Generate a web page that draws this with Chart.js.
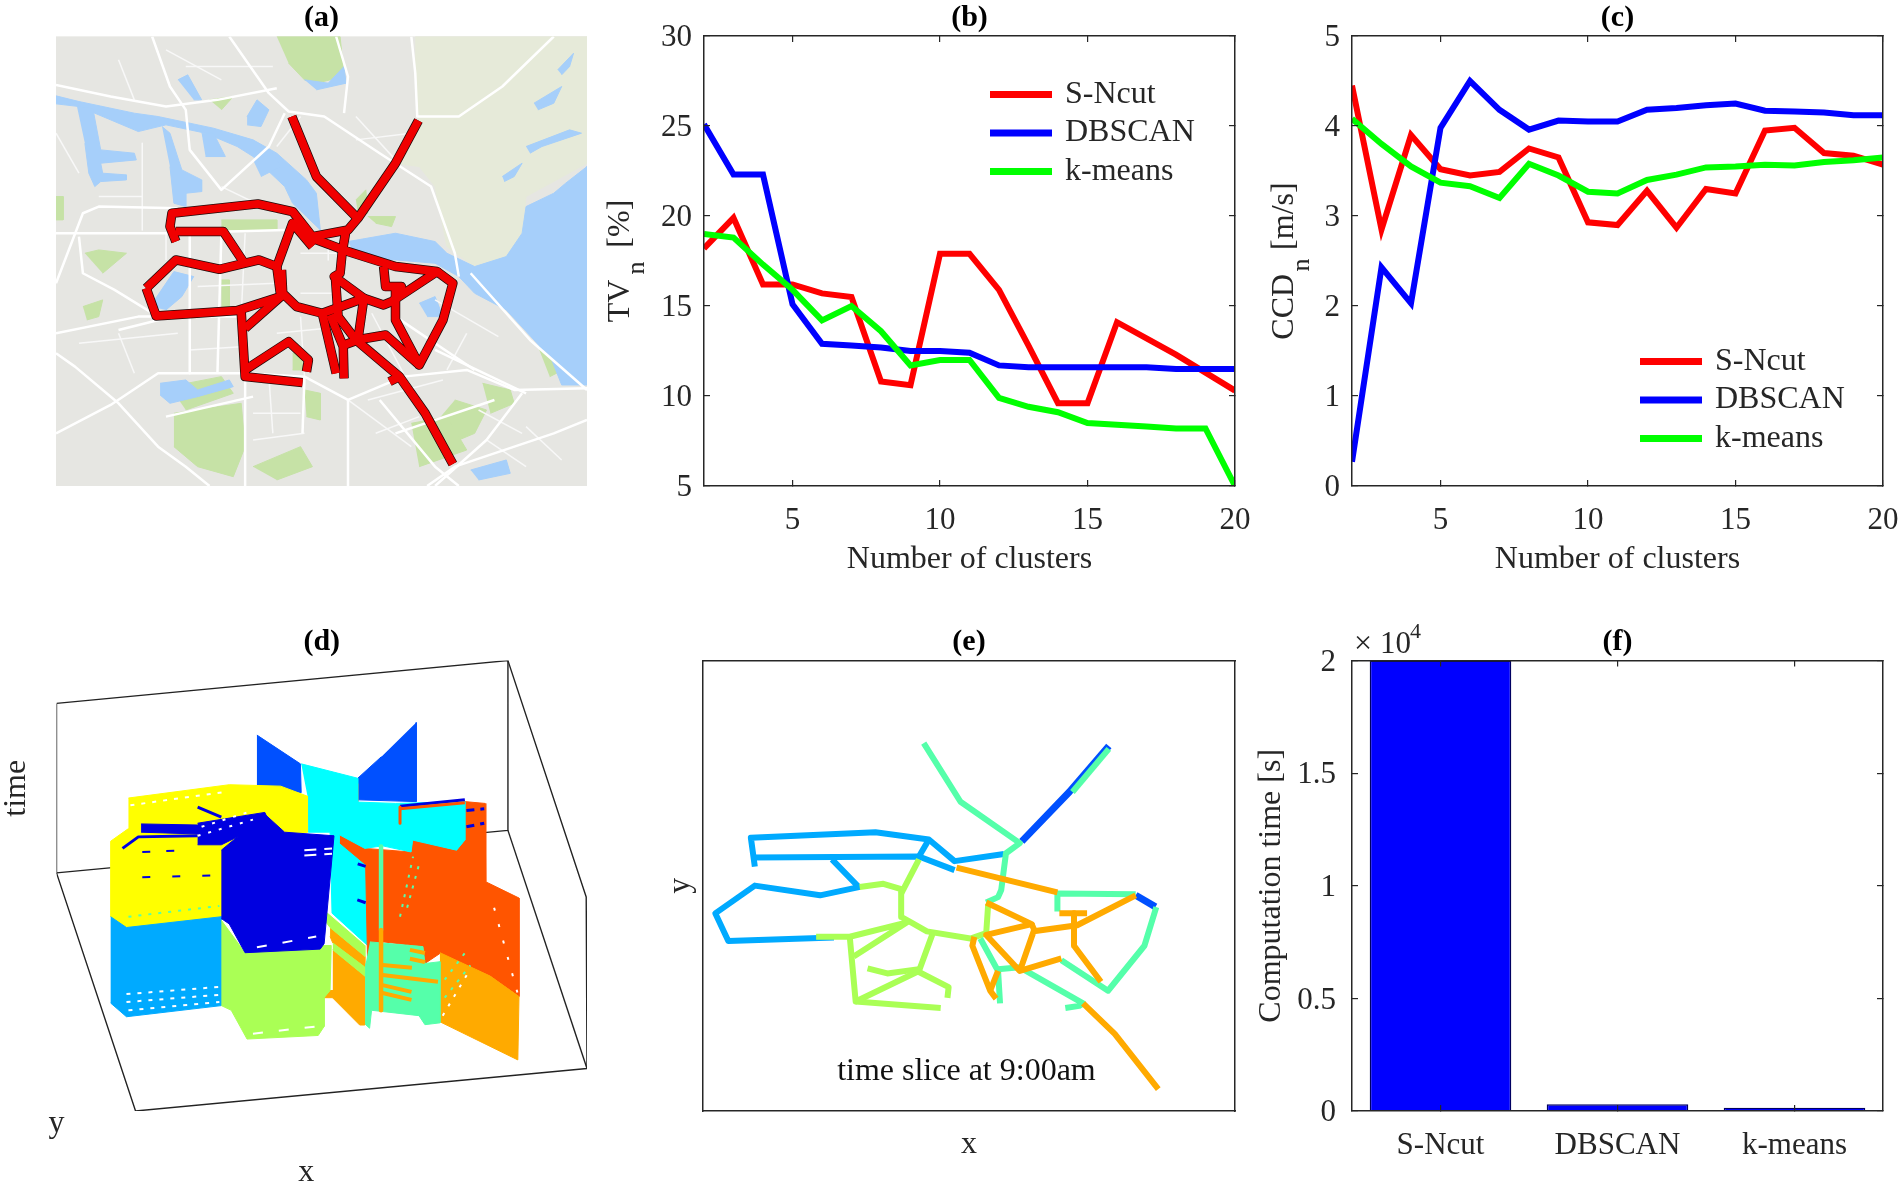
<!DOCTYPE html>
<html><head><meta charset="utf-8"><title>Clustering comparison</title>
<script src="https://cdn.jsdelivr.net/npm/chart.js@4/dist/chart.umd.min.js"></script>
<style>html,body{margin:0;padding:0;background:#fff;width:1900px;height:1184px;overflow:hidden}canvas{position:absolute;display:block}</style>
</head><body>
<canvas id="a" style="left:0;top:0" width="620" height="520"></canvas>
<canvas id="b" style="left:600px;top:0" width="650" height="590"></canvas>
<canvas id="c" style="left:1250px;top:0" width="650" height="590"></canvas>
<canvas id="d" style="left:0;top:620px" width="620" height="564"></canvas>
<canvas id="e" style="left:650px;top:620px" width="620" height="564"></canvas>
<canvas id="f" style="left:1250px;top:620px" width="650" height="564"></canvas>
<script>
// ---------- data: line charts ----------
const clusters=[2,3,4,5,6,7,8,9,10,11,12,13,14,15,16,17,18,19,20];
const seriesNames=['S-Ncut','DBSCAN','k-means'];
const tvSNcut=[18.2,19.9,16.2,16.2,15.7,15.5,10.8,10.6,17.9,17.9,15.9,12.8,9.6,9.6,14.1,13.2,12.3,11.3,10.3];
const tvDbscan=[25.1,22.3,22.3,15.1,12.9,12.8,12.7,12.5,12.5,12.4,11.7,11.6,11.6,11.6,11.6,11.6,11.5,11.5,11.5];
const tvKmeans=[19.0,18.8,17.3,15.9,14.2,15.0,13.6,11.7,12.0,12.0,9.9,9.4,9.1,8.5,8.4,8.3,8.2,8.2,5.0];
const ccdSNcut=[4.45,2.85,3.9,3.52,3.45,3.49,3.75,3.65,2.93,2.9,3.28,2.87,3.3,3.25,3.95,3.98,3.7,3.67,3.57];
const ccdDbscan=[0.27,2.43,2.03,3.98,4.5,4.18,3.96,4.06,4.05,4.05,4.18,4.2,4.23,4.25,4.17,4.16,4.15,4.12,4.12];
const ccdKmeans=[4.08,3.8,3.55,3.37,3.33,3.2,3.58,3.45,3.27,3.25,3.4,3.46,3.54,3.55,3.57,3.56,3.6,3.62,3.65];
const clusterTicks=[5,10,15,20];
const tvTicks=[5,10,15,20,25,30];
const ccdTicks=[0,1,2,3,4,5];
// ---------- data: bars ----------
const barLabels=['S-Ncut','DBSCAN','k-means'];
const computeSeconds=[20000,300,140];
const timeTicks=[0,5000,10000,15000,20000];
// ---------- data: (a) map, read in picture units ----------
const mapPaleLand=[[1050,110],[1484,110],[1484,490],[1330,590],[1320,700],[1290,780],[1200,800],[1130,740],[1100,560],[1060,500],[1000,490],[1058,360],[1050,200]];
const mapGreens=[
 [[700,110],[860,110],[870,230],[800,250],[770,240],[730,190]],
 [[440,1240],[610,1210],[620,1340],[590,1430],[500,1400],[440,1340]],
 [[1150,1200],[1230,1230],[1200,1300],[1120,1340],[1100,1270]],
 [[1360,1040],[1430,1040],[1440,1100],[1390,1130]],
 [[560,660],[700,660],[700,690],[560,690]],
 [[210,920],[260,900],[250,950],[220,960]],
 [[215,760],[250,750],[320,760],[260,820]],
 [[1220,1150],[1290,1170],[1300,1210],[1240,1240]],
 [[560,840],[580,840],[580,920],[560,920]],
 [[740,1060],[770,1060],[770,1110],[740,1110]],
 [[770,1170],[810,1180],[810,1260],[775,1250]],
 [[900,600],[925,570],[930,640],[905,640]],
 [[930,650],[1000,650],[990,680],[950,670]],
 [[430,1160],[560,1130],[590,1180],[470,1230]],
 [[142,590],[160,590],[160,660],[142,660]],
 [[530,300],[590,290],[560,330]],
 [[640,1400],[760,1340],[790,1400],[700,1440]],
 [[1040,1270],[1130,1250],[1180,1350],[1060,1400]]
];
const mapWaters=[
 [[142,288],[200,305],[340,340],[400,350],[540,385],[640,420],[700,460],[775,540],[800,580],[810,690],[775,650],[740,610],[720,560],[640,470],[600,440],[520,400],[420,375],[350,395],[200,320],[142,312]],
 [[195,320],[235,325],[255,450],[340,460],[345,480],[255,490],[260,520],[320,525],[320,540],[255,545],[240,560],[225,520],[215,430]],
 [[410,380],[430,400],[460,510],[510,540],[510,575],[470,580],[470,620],[440,610],[430,500]],
 [[450,240],[475,225],[510,300],[490,300]],
 [[625,350],[650,300],[680,330],[660,380],[625,375]],
 [[510,400],[540,400],[570,470],[520,470]],
 [[880,725],[1000,700],[1100,725],[1130,760],[1200,800],[1280,770],[1320,700],[1330,620],[1400,580],[1430,550],[1484,500],[1484,1155],[1420,1155],[1395,1080],[1350,1020],[1280,930],[1200,880],[1160,830],[1100,790],[1000,780],[900,770]],
 [[380,920],[440,815],[490,830],[460,890],[420,930]],
 [[405,1150],[470,1140],[500,1170],[580,1140],[590,1160],[500,1190],[430,1210],[405,1185]],
 [[1190,1410],[1280,1380],[1290,1420],[1210,1440]],
 [[1060,910],[1100,890],[1120,950],[1080,950]],
 [[1270,530],[1320,490],[1300,530],[1275,545]],
 [[1330,440],[1440,390],[1470,400],[1370,440],[1340,460]],
 [[1350,310],[1420,260],[1400,310],[1360,330]],
 [[1410,210],[1450,160],[1440,200],[1420,225]],
 [[770,240],[830,250],[870,200],[875,250],[800,270]],
 [[640,480],[690,460],[710,500],[660,530]]
];
const mapRoads=[
 [[142,255],[280,290],[420,320],[550,300],[700,265]],
 [[580,110],[680,280],[730,335],[820,350],[960,460],[1090,560],[1150,760],[1160,830]],
 [[850,110],[880,230],[870,340]],
 [[1040,110],[1050,220],[1055,350],[1160,350],[1270,260],[1400,110]],
 [[385,110],[430,260],[470,330],[480,450],[560,570],[680,440],[720,340]],
 [[142,700],[420,700],[720,690]],
 [[142,850],[210,640],[250,620],[450,625]],
 [[200,710],[210,820],[290,870],[400,950]],
 [[142,1060],[190,1100],[300,1210],[400,1340],[470,1400],[530,1458]],
 [[142,1300],[280,1215],[400,1120],[620,1120],[770,1130],[880,1200],[1020,1130],[1180,1110],[1300,1170],[1484,1165]],
 [[880,1200],[880,1458]],
 [[620,1130],[620,1458]],
 [[770,1130],[765,1300]],
 [[1320,1180],[1230,1320],[1100,1458]],
 [[960,1200],[1100,1400],[1160,1458]],
 [[1484,1260],[1400,1300],[1150,1400],[1080,1458]],
 [[480,700],[480,1120]],
 [[142,1000],[350,950],[600,950]],
 [[1190,820],[1340,1020],[1484,1170]],
 [[1000,950],[1200,1110]],
 [[560,700],[550,1120]],
 [[300,990],[470,940]],
 [[1100,1050],[1330,1180]],
 [[420,1250],[640,1190]],
 [[1000,1300],[1250,1200]]
];
const mapStreets=[
 [[250,590],[360,590],[360,690]],[[620,700],[610,950]],[[500,860],[700,850]],[[420,780],[420,700]],
 [[200,1030],[450,1000]],[[300,1000],[340,1120]],[[480,1050],[620,1040]],[[700,1000],[870,980]],
 [[760,950],[770,1130]],[[940,940],[1020,1120]],[[1100,900],[1260,1010]],[[1180,1000],[1130,1110]],
 [[930,1200],[1120,1140]],[[950,1300],[1060,1250]],[[1210,1230],[1320,1300]],[[640,1240],[760,1240]],
 [[640,1320],[770,1300]],[[680,1130],[690,1300]],[[560,560],[700,640]],[[760,350],[700,440]],
 [[900,350],[1000,480]],[[900,420],[1040,400]],[[470,200],[690,200]],[[420,150],[560,240]],
 [[300,180],[340,300]],[[142,400],[200,520]],[[360,430],[360,590]],[[880,1200],[1040,1340]],
 [[1230,1320],[1330,1400]],[[1330,1280],[1420,1380]],[[830,700],[830,780]],[[760,760],[850,760]],
 [[760,880],[860,880]]
];
const mapNetwork=[
 [[738,350],[800,530],[900,650]],
 [[1058,362],[1000,490],[905,655],[880,690],[790,710],[740,635],[652,612],[435,640],[430,680],[445,725]],
 [[445,695],[565,695],[618,790]],
 [[370,865],[445,780],[555,808],[655,780],[700,800],[740,670],[790,740]],
 [[370,865],[395,948],[600,932],[710,890],[700,800]],
 [[712,810],[715,880],[750,920],[815,940],[920,895],[970,915],[990,905],[1105,815],[1000,800],[880,755],[790,715]],
 [[1105,815],[1145,850],[1120,960],[1060,1095],[1000,960],[1000,870],[1015,860],[975,860],[970,800]],
 [[875,690],[865,760],[860,820],[845,830],[920,895],[905,1020],[870,1035]],
 [[848,830],[855,950],[900,1020],[1010,1130],[1075,1240],[1145,1392]],
 [[815,940],[850,1120]],
 [[835,945],[868,1040],[870,1135]],
 [[900,1020],[975,1005],[1060,1095]],
 [[1010,1130],[985,1145]],
 [[610,935],[620,1130],[765,1148]],
 [[620,1110],[730,1025],[780,1080],[775,1115]],
 [[710,890],[620,985]]
];
// ---------- data: (d) space-time partitions, read in picture units ----------
const boxEdges=[
 [[143,232],[1285,113],[1285,585],[143,703],[143,232]],
 [[1285,113],[1483,770],[1485,1247],[343,1365],[143,703]],
 [[1285,585],[1485,1247]]
];
const dBlueA=[[650,320],[760,400],[762,480],[650,460]];
const dBlueB=[[1053,285],[1053,505],[905,500],[905,440],[965,380]];
const dCyanCol=[[762,400],[905,440],[905,520],[925,640],[930,905],[840,815],[835,590],[780,590],[778,490]];
const dRed=[[860,598],[923,635],[1040,645],[1044,612],[1155,640],[1176,612],[1176,505],[1227,510],[1229,728],[1313,773],[1313,1047],[1240,990],[1113,927],[1075,955],[1070,908],[970,895],[930,954],[925,680],[860,620]];
const dRedTop=[[872,470],[905,455],[905,505],[880,545],[870,540]];
const dCyanTop=[[871,505],[1000,510],[1176,505],[1176,612],[1155,640],[1044,612],[1040,645],[968,628],[923,635],[860,598],[868,580]];
const dYellow=[[325,495],[580,458],[710,462],[778,490],[778,590],[560,640],[560,825],[320,855],[280,825],[280,615],[325,580]];
const dSky=[[280,825],[320,855],[560,825],[560,1072],[320,1103],[280,1065]];
const dNavyBody=[[560,640],[670,540],[720,590],[845,600],[820,900],[810,915],[620,925],[580,845],[560,830]];
const dNavyBar=[[357,567],[500,570],[500,595],[357,590]];
const dNavyLink=[[500,565],[670,535],[680,560],[560,625],[500,625]];
const dLime=[[560,835],[620,925],[820,905],[838,905],[835,1030],[820,1050],[820,1130],[805,1155],[625,1165],[585,1085],[560,1072]];
const dOrangeA=[[842,917],[923,990],[923,1126],[910,1126],[842,1051]];
const dOrangeStripe=[[835,855],[923,935],[923,965],[842,898],[835,880]];
const dOrangeEdge=[[820,1030],[845,1030],[845,1050],[820,1050]];
const dOrangeB=[[1113,925],[1240,990],[1313,1047],[1310,1223],[1113,1117]];
const dSpring=[[936,895],[1070,908],[1075,955],[1113,950],[1113,1120],[1075,1125],[1060,1100],[940,1085],[935,1135],[925,1125],[925,955]];
const dLimeBandA=[[825,812],[923,905],[923,935],[835,855],[825,840]];
const dLimeBandB=[[842,898],[923,965],[923,990],[842,917]];
const dStreaks=[
 {c:'#0000e0',w:3,p:[[310,635],[350,603],[500,600]]},
 {c:'#0000e0',w:3,p:[[500,520],[560,548]]},
 {c:'#0000e0',w:3,p:[[1012,518],[1176,500]]},
 {c:'#ff5500',w:3,p:[[1012,525],[1176,508]]},
 {c:'#ff5500',w:3,p:[[1012,520],[1012,565]]},
 {c:'#0000e0',w:3,p:[[905,678],[925,685]]},
 {c:'#0000e0',w:3,p:[[904,778],[925,786]]},
 {c:'#0000e0',w:3,d:[8,6],p:[[1180,530],[1225,525]]},
 {c:'#0000e0',w:3,d:[8,6],p:[[1180,575],[1225,565]]},
 {c:'#55ffaa',w:4.5,p:[[964,630],[964,862]]},
 {c:'#ffaa00',w:4.5,p:[[964,862],[964,1085]]},
 {c:'#ffaa00',w:4,p:[[968,959],[1042,967]]},
 {c:'#ffaa00',w:4,p:[[968,987],[1108,1006]]},
 {c:'#ffaa00',w:4,p:[[968,1015],[1041,1034]]},
 {c:'#ffaa00',w:4,p:[[968,1037],[1041,1056]]},
 {c:'#ffaa00',w:4,p:[[1037,917],[1075,926]]},
 {c:'#ffaa00',w:4,p:[[1037,942],[1075,951]]},
 {c:'#ffffff',w:2,d:[4,7],p:[[320,1040],[555,1020]]},
 {c:'#ffffff',w:2,d:[4,7],p:[[320,1062],[555,1042]]},
 {c:'#ffffff',w:2,d:[4,7],p:[[325,1085],[555,1062]]},
 {c:'#ffffff',w:2,d:[4,7],p:[[330,515],[570,478]]},
 {c:'#55ffaa',w:2,d:[3,7],p:[[325,825],[555,795]]},
 {c:'#ffffff',w:2,d:[10,16],p:[[640,1150],[800,1130]]},
 {c:'#ffffff',w:2,d:[10,16],p:[[650,910],[800,880]]},
 {c:'#55ffaa',w:2,d:[3,7],p:[[1012,825],[1045,658]]},
 {c:'#55ffaa',w:2,d:[3,7],p:[[1030,800],[1060,680]]},
 {c:'#55ffaa',w:2,d:[3,7],p:[[1125,1000],[1180,920]]},
 {c:'#55ffaa',w:2,d:[3,7],p:[[1125,1050],[1190,960]]},
 {c:'#ffffff',w:2,d:[3,8],p:[[1120,1100],[1190,970]]},
 {c:'#0000e0',w:2,d:[8,16],p:[[360,645],[480,640]]},
 {c:'#0000e0',w:2,d:[8,22],p:[[360,715],[540,710]]},
 {c:'#ffffff',w:2,d:[3,8],p:[[500,600],[640,555]]},
 {c:'#ffffff',w:2,d:[3,8],p:[[510,575],[640,530]]},
 {c:'#ffffff',w:2,d:[3,14],p:[[1250,800],[1310,1040]]},
 {c:'#ffffff',w:2,d:[12,8],p:[[770,640],[840,635]]},
 {c:'#ffffff',w:2,d:[12,8],p:[[770,655],[840,650]]}
];
// ---------- data: (e) time slice, read in picture units ----------
const sliceBlue=[
 [[1160,350],[1060,478],[940,615]],
 [[1228,765],[1278,797]]
];
const sliceSpring=[
 [[692,342],[785,505],[935,620],[900,648],[888,750],[880,770],[850,785]],
 [[1160,358],[1068,478]],
 [[1030,810],[1030,760],[1228,762]],
 [[1280,798],[1250,905],[1158,1030],[1040,945]],
 [[835,885],[880,975],[885,1065]],
 [[880,970],[935,965],[1095,1065],[1085,1072],[1050,1078]]
];
const sliceOrange=[
 [[775,688],[1030,757]],
 [[1228,765],[1080,848],[970,865],[935,975]],
 [[850,785],[965,845],[850,875],[935,975],[1040,940]],
 [[820,880],[815,905],[860,1030],[875,1052]],
 [[860,1030],[880,975]],
 [[1035,815],[1105,815]],
 [[1072,815],[1072,905],[1140,1005]],
 [[1095,1065],[1175,1150],[1285,1303]],
 [[965,845],[975,870]]
];
const sliceLime=[
 [[530,742],[590,733],[635,748],[635,825],[660,840],[700,865],[810,885],[850,870],[855,790]],
 [[635,760],[680,665]],
 [[420,880],[505,880],[650,840],[515,935]],
 [[505,880],[520,1060],[680,975],[715,870]],
 [[520,1060],[735,1078]],
 [[680,978],[755,1020],[752,1050]],
 [[680,970],[600,982],[550,968]]
];
const sliceSky=[
 [[265,685],[255,605],[570,590],[705,610],[770,670],[895,650]],
 [[260,660],[680,657],[770,695]],
 [[705,610],[680,657]],
 [[460,665],[528,742],[430,765],[265,738],[165,815],[198,892],[465,882]]
];

// ---------- helpers ----------
const SERIF="'Liberation Serif','Times New Roman',serif";
const INK='#262626';
const RED='#ff0000',BLUE='#0000ff',GREEN='#00ff00';
const pts=a=>a.map(p=>({x:p[0],y:p[1]}));
const xy=(xs,ys)=>xs.map((v,i)=>({x:v,y:ys[i]}));
const fixSize=(w,h)=>s=>{ if(w!==null)s.width=w; if(h!==null)s.height=h; s.paddingLeft=s.paddingRight=s.paddingTop=s.paddingBottom=0; };
const fixed=list=>s=>{s.ticks=list.map(v=>({value:v}));};
const stroke=(p,color,w,extra)=>Object.assign({type:'scatter',showLine:true,data:pts(p),borderColor:color,borderWidth:w,backgroundColor:'transparent',pointRadius:0,borderJoinStyle:'round',borderCapStyle:'butt',tension:0,fill:false},extra||{});
const shape=(p,color)=>({type:'scatter',showLine:true,data:pts(p),borderColor:color,borderWidth:1,backgroundColor:color,pointRadius:0,borderJoinStyle:'round',tension:0,fill:'shape'});
const paintOrder=list=>list.map((d,i)=>Object.assign(d,{order:list.length-i}));

const notesPlugin={id:'notes',afterDraw(chart,args,opts){
  const ctx=chart.ctx;
  (opts.items||[]).forEach(n=>{
    ctx.save();
    if(n.px) ctx.translate(n.px[0],n.px[1]);
    else ctx.translate(chart.scales.x.getPixelForValue(n.x),chart.scales.y.getPixelForValue(n.y));
    if(n.rot)ctx.rotate(n.rot);
    ctx.font=(n.size||32)+'px '+SERIF; ctx.fillStyle=n.color||INK;
    ctx.textAlign=n.align||'center'; ctx.textBaseline='middle';
    ctx.fillText(n.text,0,0); ctx.restore();
  });
}};
const legendSpotPlugin={id:'legendSpot',beforeDraw(chart,args,opts){
  if(chart.legend&&opts.left!==undefined){chart.legend.left=opts.left;chart.legend.top=opts.top;chart.legend.bottom=opts.top+200;chart.legend.right=opts.left+260;}
}};

function titleOpt(text){return {display:true,text,fullSize:false,color:'#000',padding:0,font:{family:SERIF,size:30,weight:'bold',lineHeight:1.2}};}
function axisTitle(text,pad){return {display:true,text,color:INK,padding:pad,font:{family:SERIF,size:32,lineHeight:1.2}};}
function frameAxis(pos,extra,size){
  const horiz=pos==='top'||pos==='bottom';
  return Object.assign({position:pos,display:true,
    border:{display:true,color:INK,width:1.5,z:2},
    grid:{drawOnChartArea:false,drawTicks:true,tickLength:-6,color:INK,lineWidth:1.2,z:2},
    ticks:{display:false},
    afterFit:horiz?fixSize(null,size):fixSize(size,null)},extra||{});
}
const tickFont={family:SERIF,size:31};
function lineChart(id,cfg){
  const mk=(i,vals,color,ord)=>({label:seriesNames[i],data:xy(clusters,vals),borderColor:color,backgroundColor:color,borderWidth:6,pointRadius:0,tension:0,order:ord,borderJoinStyle:'miter'});
  const ds=[mk(0,cfg.s[0],RED,3),mk(1,cfg.s[1],BLUE,2),mk(2,cfg.s[2],GREEN,1)];
  const xr={type:'linear',min:2,max:20,afterBuildTicks:fixed(clusterTicks)};
  const yr={type:'linear',min:cfg.min,max:cfg.max,afterBuildTicks:fixed(cfg.ticks)};
  new Chart(document.getElementById(id),{type:'line',data:{datasets:ds},options:{
    responsive:false,animation:false,devicePixelRatio:1,events:[],
    layout:{padding:{top:0,left:0,right:cfg.right,bottom:0}},
    plugins:{title:titleOpt(cfg.title),tooltip:{enabled:false},
      legend:{display:true,position:'chartArea',align:'start',
        labels:{boxWidth:56,boxHeight:1,padding:6.5,color:INK,font:{family:SERIF,size:32},sort:(a,b)=>a.datasetIndex-b.datasetIndex}},
      legendSpot:cfg.legend,notes:{items:cfg.notes}},
    scales:{
      x:frameAxis('bottom',Object.assign({},xr,{ticks:{display:true,color:INK,font:tickFont,padding:22,autoSkip:false,maxRotation:0},title:axisTitle('Number of clusters',{top:0,bottom:11})}),104),
      y:frameAxis('left',Object.assign({},yr,{ticks:{display:true,color:INK,font:tickFont,padding:18,autoSkip:false,labelOffset:2},title:axisTitle(cfg.ylabel,{top:cfg.ypad,bottom:0})}),cfg.left),
      x2:frameAxis('top',xr,0),
      y2:frameAxis('right',yr,0)
    }},plugins:[legendSpotPlugin,notesPlugin]});
}
function pictureChart(id,datasets,cfg){
  new Chart(document.getElementById(id),{type:'scatter',data:{datasets},options:{
    responsive:false,animation:false,devicePixelRatio:1,events:[],
    layout:{padding:cfg.padding},
    plugins:{title:titleOpt(cfg.title),legend:{display:false},tooltip:{enabled:false},notes:{items:cfg.notes||[]}},
    scales:cfg.scales},plugins:[notesPlugin]});
}

// ---------- (a) ----------
const BASE='#e6e6e2',PALE='#e6ead9',WATER='#a6cffa',PARK='#c6e2a6';
const mapSheet=[[142,110],[1484,110],[1484,1458],[142,1458]];
pictureChart('a',paintOrder([
  shape(mapSheet,BASE),shape(mapPaleLand,PALE),
  ...mapGreens.map(p=>shape(p,PARK)),
  ...mapWaters.map(p=>shape(p,WATER)),
  ...mapStreets.map(p=>stroke(p,'#f8f8f8',1.5)),
  ...mapRoads.map(p=>stroke(p,'#ffffff',2.5)),
  ...mapNetwork.map(p=>stroke(p,'#200808',9.5)),
  ...mapNetwork.map(p=>stroke(p,'#f00000',8))
]),{title:'(a)',padding:{left:56,right:33,top:0.5,bottom:34},
  scales:{x:{type:'linear',display:false,min:142,max:1484},y:{type:'linear',display:false,reverse:true,min:110,max:1458}}});

// ---------- (b) ----------
lineChart('b',{title:'(b)',s:[tvSNcut,tvDbscan,tvKmeans],min:5,max:30,ticks:tvTicks,ylabel:'TV    [%]',ypad:1,left:104,right:15,
  legend:{left:386.5,top:72},notes:[{text:'n',px:[37,268],rot:-Math.PI/2,size:26}]});
// ---------- (c) ----------
lineChart('c',{title:'(c)',s:[ccdSNcut,ccdDbscan,ccdKmeans],min:0,max:5,ticks:ccdTicks,ylabel:'CCD   [m/s]',ypad:15,left:102,right:17,
  legend:{left:386.5,top:339},notes:[{text:'n',px:[52,265],rot:-Math.PI/2,size:26}]});

// ---------- (d) ----------
const JET={blue:'#0050ff',cyan:'#00ffff',red:'#ff5500',yellow:'#ffff00',sky:'#00aaff',navy:'#0000e0',lime:'#aaff55',orange:'#ffaa00',spring:'#55ffaa'};
pictureChart('d',paintOrder([
  ...boxEdges.map(p=>stroke(p,'#222222',1.4)),
  shape(dBlueA,JET.blue),shape(dBlueB,JET.blue),shape(dRedTop,JET.red),shape(dCyanCol,JET.cyan),
  shape(dRed,JET.red),shape(dCyanTop,JET.cyan),shape(dOrangeB,JET.orange),
  shape(dOrangeA,JET.orange),shape(dOrangeStripe,JET.orange),shape(dOrangeEdge,JET.orange),
  shape(dLimeBandA,JET.lime),shape(dLimeBandB,JET.lime),shape(dSpring,JET.spring),
  shape(dYellow,JET.yellow),shape(dSky,JET.sky),shape(dLime,JET.lime),
  shape(dNavyBody,JET.navy),shape(dNavyBar,JET.navy),shape(dNavyLink,JET.navy),
  ...dStreaks.map(s=>stroke(s.p,s.c,s.w,s.d?{borderDash:s.d}:{}))
]),{title:'(d)',padding:{left:56.5,right:33,top:4.6,bottom:73},
  notes:[{text:'time',x:42,y:468,rot:-Math.PI/2},{text:'y',x:143,y:1400},{text:'x',x:775,y:1535}],
  scales:{x:{type:'linear',display:false,min:143,max:1485},y:{type:'linear',display:false,reverse:true,min:113,max:1365}}});

// ---------- (e) ----------
const eBox=(pos,extra,size)=>frameAxis(pos,Object.assign({grid:{drawOnChartArea:false,drawTicks:false,color:INK},ticks:{display:false}},extra),size);
pictureChart('e',paintOrder([
  ...sliceSky.map(p=>stroke(p,JET.sky,6)),
  ...sliceLime.map(p=>stroke(p,JET.lime,6)),
  ...sliceBlue.map(p=>stroke(p,JET.blue,7)),
  ...sliceSpring.map(p=>stroke(p,JET.spring,6)),
  ...sliceOrange.map(p=>stroke(p,JET.orange,6))
]),{title:'(e)',padding:{left:0,right:35,top:4.6,bottom:0},
  notes:[{text:'time slice at 9:00am',x:800,y:1255,color:'#111'}],
  scales:{
    x:eBox('bottom',{type:'linear',min:134,max:1479,title:axisTitle('x',{top:0,bottom:20})},73),
    y:eBox('left',{type:'linear',reverse:true,min:113,max:1364,title:axisTitle('y',{top:11,bottom:0})},53),
    x2:eBox('top',{type:'linear',min:134,max:1479},0),
    y2:eBox('right',{type:'linear',reverse:true,min:113,max:1364},0)
  }});

// ---------- (f) ----------
const catBase={type:'category',labels:barLabels,offset:true};
const catGrid={offset:false,drawOnChartArea:false,tickLength:-6,color:INK,lineWidth:1.2,z:2};
new Chart(document.getElementById('f'),{type:'bar',data:{labels:barLabels,datasets:[
  {data:computeSeconds,backgroundColor:BLUE,borderColor:'#000060',borderWidth:1.5,barPercentage:0.8,categoryPercentage:1}
]},options:{responsive:false,animation:false,devicePixelRatio:1,events:[],
  layout:{padding:{top:4.6,right:17,left:0,bottom:0}},
  plugins:{title:titleOpt('(f)'),legend:{display:false},tooltip:{enabled:false},
    notes:{items:[{text:'×',px:[104,25],align:'left',size:32},{text:'10',px:[130,25],align:'left',size:31},{text:'4',px:[160,12],align:'left',size:22}]}},
  scales:{
    x:frameAxis('bottom',Object.assign({},catBase,{grid:catGrid,
      ticks:{display:true,color:INK,font:tickFont,padding:22,autoSkip:false,maxRotation:0}}),73),
    y:frameAxis('left',{type:'linear',min:0,max:20000,afterBuildTicks:fixed(timeTicks),
      ticks:{display:true,color:INK,font:tickFont,padding:22,autoSkip:false,labelOffset:2,callback:v=>String(v/10000)},
      title:axisTitle('Computation time [s]',{top:2,bottom:0})},102),
    x2:frameAxis('top',Object.assign({},catBase,{grid:catGrid}),0),
    y2:frameAxis('right',{type:'linear',min:0,max:20000,afterBuildTicks:fixed(timeTicks)},0)
  }},plugins:[notesPlugin]});
</script>
</body></html>
